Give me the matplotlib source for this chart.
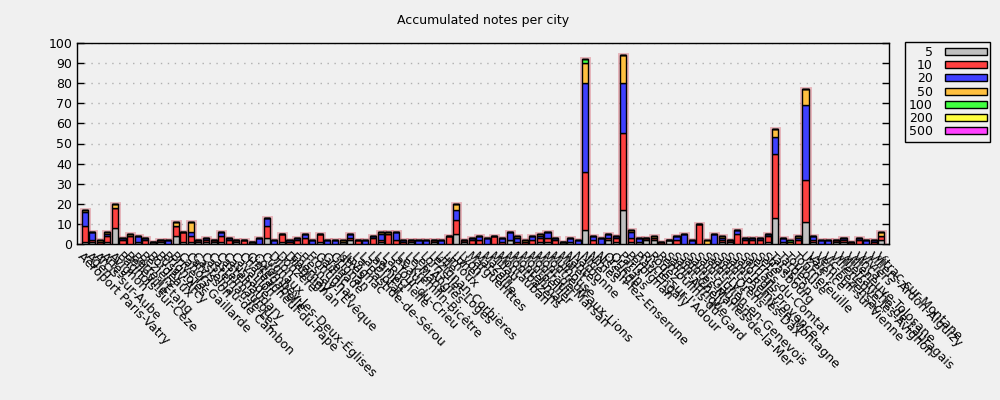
import numpy as np
from matplotlib import pyplot as plt

cities = [
    "Aéroport Paris-Vatry", "Agen", "Arcis-sur-Aube", "Arles", "Avignon",
    "Bagnols-sur-Cèze", "Belleville", "Berre-l'Étang", "Béziers", "Bordeaux",
    "Bussy-Arcy", "Brignoles", "Brive-la-Gaillarde", "Cahors", "Calvisson",
    "Castelnau-de Cambon", "Castelnau-le-Lez", "Castelmaurou", "Castelnaudary", "Caussade",
    "Cavaillon", "Châteauneuf-du-Pape", "Cintegabelle", "Colombey-les-Deux-Églises", "Cugnaux",
    "Dijon", "Donzère", "Draguignan", "Épernay", "Fresnay-l'Évêque",
    "Frontignan", "Gaillac", "Grenade", "Grignan", "Istres",
    "Juvignac", "La Bastide-de-Sérou", "La Ciotat", "Lagnieu", "La Rochelle",
    "La Tour-du-Crieu", "Lavaur", "Le Kremlin-Bicêtre", "Le Mans", "Les Angles",
    "Lorris-les-Loges", "Lézignan-Corbières", "Lille", "Limoux", "Lunel",
    "Lyon", "Marguerittes", "Marseille", "Mazan", "Millau",
    "Montauban", "Montbazens", "Montélimar", "Montpellier", "Montreuil",
    "Mont-de-Marsan", "Montreuil-aux-Lions", "Mulhouse", "Muret", "Nantes",
    "Narbonne", "Nice", "Nîmes", "Nissan-lez-Enserune", "Orange",
    "Orléans", "Paris", "Perpignan", "Piau-Engaly", "Riscle-sur-l'Adour",
    "Rodez", "Remoulins-du-Gard", "Saint-Affrique", "Saint-Chély", "Saintes-Maries-de-la-Mer",
    "Saint-Gaudens", "Saint-Julien-en-Genevois", "Saint-Lys", "Saint-Orens", "Saint-Paul-lès-Dax",
    "Saint-Rémy-en-Montagne", "Salon-de-Provence", "Sarrians", "Serres-du-Comtat", "Sète",
    "Strasbourg", "Tarascon", "Tarbes", "Toulouse", "Tournefeuille",
    "Uzès", "Valence", "Verneuil-sur-Vienne", "Vic-Fezensac", "Villeneuve-lès-Avignon",
    "Villefranche-de-Lauragais", "Villeneuve-Tolosane", "Vinça", "Viviers", "Villers-Ardon-Aiguizy",
    "Vitrac-sur-Montane",
]

notes_5 = [1, 1, 0, 1, 8, 0, 0, 1, 0, 1, 1, 0, 4, 1, 1, 1, 1, 1, 1, 0,
           1, 0, 1, 0, 3, 0, 1, 0, 0, 0, 0, 1, 0, 0, 1, 2, 0, 0, 0, 1,
           0, 0, 0, 1, 0, 0, 1, 0, 0, 5, 1, 0, 0, 0, 0, 0, 2, 0, 0, 0,
           1, 1, 0, 1, 1, 0, 7, 0, 0, 2, 1, 17, 1, 1, 2, 2, 0, 2, 0, 0,
           0, 0, 0, 0, 1, 1, 0, 0, 0, 0, 1, 13, 1, 0, 0, 11, 1, 0, 0, 1,
           1, 0, 0, 0, 0, 2]
notes_10 = [8, 1, 1, 3, 10, 2, 4, 0, 2, 0, 1, 0, 5, 5, 3, 1, 1, 1, 3, 2,
            1, 2, 0, 0, 6, 0, 4, 1, 2, 3, 0, 4, 0, 0, 0, 1, 2, 0, 3, 1,
            5, 2, 1, 1, 0, 0, 1, 0, 4, 7, 1, 2, 2, 0, 4, 1, 0, 1, 1, 2,
            2, 2, 2, 0, 0, 0, 29, 2, 0, 1, 2, 38, 2, 0, 1, 1, 1, 0, 2, 0,
            0, 10, 0, 0, 1, 1, 5, 2, 2, 2, 3, 32, 0, 0, 2, 21, 1, 0, 0, 1,
            1, 1, 2, 0, 1, 2]
notes_20 = [7, 4, 0, 1, 0, 1, 0, 3, 1, 0, 0, 2, 0, 0, 2, 0, 1, 0, 2, 1,
            0, 0, 0, 3, 4, 2, 0, 1, 1, 2, 2, 0, 2, 2, 0, 2, 0, 2, 1, 3,
            0, 4, 1, 0, 2, 2, 0, 2, 0, 5, 0, 1, 2, 3, 0, 2, 4, 2, 0, 2,
            1, 3, 1, 0, 2, 2, 44, 2, 3, 2, 1, 25, 3, 2, 0, 0, 0, 0, 2, 5,
            2, 0, 0, 5, 1, 0, 2, 1, 1, 1, 1, 8, 2, 0, 1, 37, 2, 2, 2, 0,
            1, 0, 1, 2, 1, 0]
notes_50 = [1, 0, 1, 1, 2, 0, 1, 0, 0, 0, 0, 0, 2, 0, 5, 0, 0, 0, 0, 0,
            0, 0, 0, 0, 0, 0, 0, 0, 0, 0, 0, 0, 0, 0, 1, 0, 0, 0, 0, 1,
            1, 0, 0, 0, 0, 0, 0, 0, 0, 3, 0, 0, 0, 0, 0, 0, 0, 1, 1, 0,
            1, 0, 0, 0, 0, 0, 10, 0, 0, 0, 0, 14, 1, 0, 0, 1, 0, 0, 0, 0,
            0, 0, 2, 0, 1, 0, 0, 0, 0, 0, 0, 4, 0, 1, 1, 8, 0, 0, 0, 0,
            0, 0, 0, 0, 0, 2]
notes_100 = [0] * 66 + [2] + [0] * 26 + [1] + [0] * 12
notes_200 = [0] * 106
notes_500 = [0] * 106

labels = ['5', '10', '20', '50', '100', '200', '500']
colors = ['#c0c0c0', '#ff4040', '#4040ff', '#ffc040', '#40ff40', '#ffff40', '#ff40ff']


def main():
    plt.rcParams['font.family'] = ['DejaVu Sans']
    plt.rcParams['font.size'] = 9

    series = [notes_5, notes_10, notes_20, notes_50, notes_100, notes_200, notes_500]
    x = np.arange(len(cities))

    fig = plt.figure(figsize=(10, 4), dpi=100, facecolor='#f0f0f0')
    ax = fig.add_axes([0.077, 0.39, 0.812, 0.5025])
    ax.set_facecolor('#f0f0f0')

    total = np.sum(np.array(series), axis=0)
    # pink halo under every bar
    ax.bar(x, total, width=0.8, color='none', edgecolor=(0.85, 0.45, 0.5, 0.5),
           linewidth=3.5, zorder=2)

    bottom = np.zeros(len(cities))
    handles = []
    for vals, lab, col in zip(series, labels, colors):
        b = ax.bar(x, vals, width=0.8, bottom=bottom, color=col,
                   edgecolor='black', linewidth=1, label=lab, zorder=3)
        handles.append(b)
        bottom += np.array(vals)

    ax.set_xlim(-1, len(cities))
    ax.set_ylim(0, 100)
    ax.set_yticks(range(0, 101, 10))
    ax.yaxis.grid(True, linestyle=(0, (1, 4)), color='#b0b0b0', linewidth=1, zorder=0)
    ax.set_axisbelow(True)
    ax.tick_params(axis='y', direction='in', right=True, length=5, width=1)
    ax.tick_params(axis='x', length=0, pad=4)
    ax.set_xticks(x)
    ax.set_xticklabels(cities, rotation=-45, ha='left', va='top',
                       rotation_mode='anchor', fontsize=9)
    for s in ax.spines.values():
        s.set_linewidth(1)
    ax.set_title('Accumulated notes per city', fontsize=9, pad=14)

    leg = fig.legend(handles, labels, loc='upper left',
                     bbox_to_anchor=(0.905, 0.895), markerfirst=False,
                     fancybox=False, edgecolor='black', facecolor='#f0f0f0',
                     framealpha=1, fontsize=9, handlelength=3.3, handleheight=0.5,
                     labelspacing=0.02, borderpad=0.3, handletextpad=1.0,
                     borderaxespad=0)
    leg.get_frame().set_linewidth(1)

    fig.savefig('out.png', dpi=100, facecolor='#f0f0f0')


if __name__ == '__main__':
    main()
